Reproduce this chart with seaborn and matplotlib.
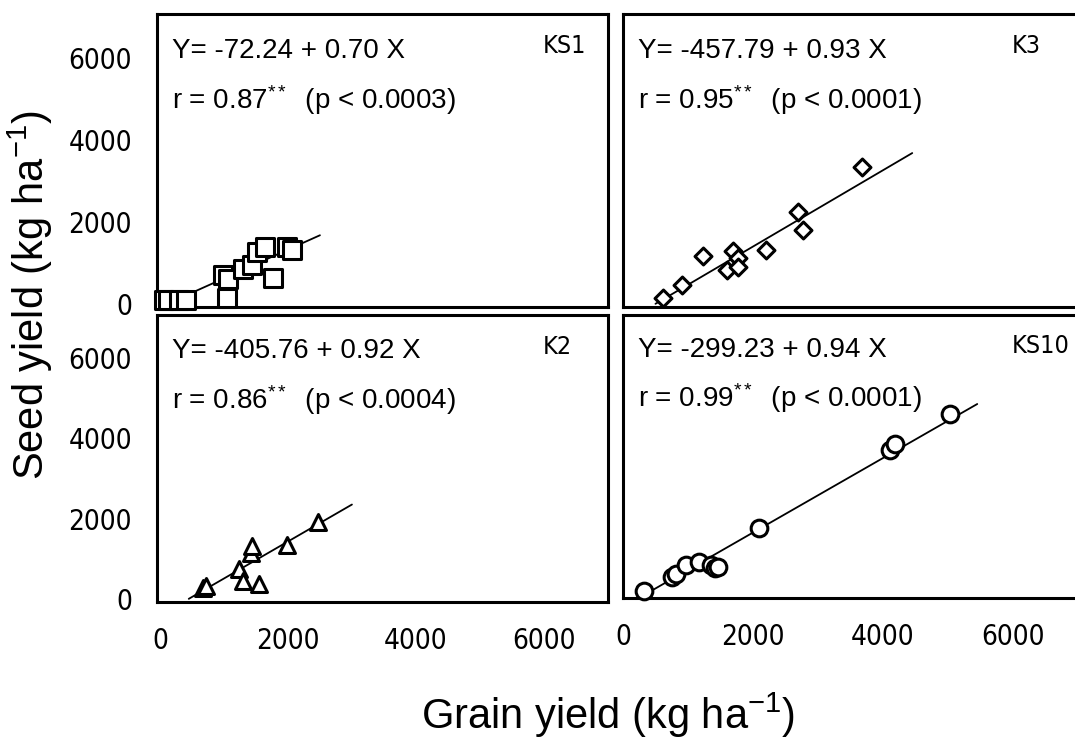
import os
import numpy as np
import pandas as pd
import matplotlib
matplotlib.use("Agg")
import matplotlib.pyplot as plt
from matplotlib import font_manager as fm
from matplotlib.ticker import MultipleLocator, FixedLocator
import seaborn as sns

# ---------------- data ----------------
ks1_x = [60, 120, 300, 400, 980, 1060, 1050, 1300, 1440, 1515, 1640, 1765, 1980, 2060]
ks1_y = [100, 100, 100, 100, 700, 620, 150, 850, 950, 1270, 1390, 630, 1380, 1320]

k3_x = [615, 905, 1230, 1600, 1690, 1770, 1770, 2200, 2690, 2770, 3680]
k3_y = [145, 460, 1170, 830, 1290, 1120, 900, 1320, 2240, 1800, 3340]

k2_x = [680, 720, 1240, 1300, 1420, 1440, 1540, 1990, 2470]
k2_y = [280, 330, 750, 450, 1150, 1330, 375, 1350, 1920]

ks10_x = [320, 750, 820, 970, 1170, 1350, 1420, 1460, 2100, 4110, 4185, 5030]
ks10_y = [100, 450, 530, 770, 850, 760, 680, 720, 1690, 3670, 3820, 4560]

panel_names = ["KS1", "K3", "K2", "KS10"]
intercepts = [-72.24, -457.79, -405.76, -299.23]
slopes = [0.70, 0.93, 0.92, 0.94]
r_values = ["0.87", "0.95", "0.86", "0.99"]
p_values = ["0.0003", "0.0001", "0.0004", "0.0001"]
line_ranges = [(400, 2500), (500, 4450), (450, 3000), (330, 5450)]
markers = ["s", "D", "^", "o"]
marker_sizes = [13, 8.6, 11.5, 12]

tick_values = [0, 2000, 4000, 6000]
tick_labels = ["0", "2000", "4000", "6000"]

# ---------------- style ----------------
sns.set_style("white")
plt.rcParams["font.family"] = ["Liberation Sans", "DejaVu Sans"]
plt.rcParams["mathtext.fontset"] = "custom"
plt.rcParams["mathtext.rm"] = "Liberation Sans"
plt.rcParams["mathtext.it"] = "Liberation Sans"
plt.rcParams["mathtext.default"] = "regular"
for k in ["text.color", "axes.labelcolor", "xtick.color", "ytick.color"]:
    plt.rcParams[k] = "black"


def narrow_font(size):
    path = None
    for f in fm.fontManager.ttflist:
        b = os.path.basename(f.fname)
        if b.startswith("LiberationSansNarrow-Regular"):
            path = f.fname
            break
    if path is None:
        for f in fm.fontManager.ttflist:
            b = os.path.basename(f.fname)
            if b == "DejaVuSansCondensed.ttf":
                path = f.fname
                break
    if path is None:
        return fm.FontProperties(family="Liberation Sans", size=size * 0.8)
    return fm.FontProperties(fname=path, size=size)


tick_fp = narrow_font(20)
name_fp = narrow_font(18)

fig = plt.figure(figsize=(10.75, 7.39), dpi=100)
positions = [
    [0.146, 0.5846, 0.4195, 0.3965],
    [0.5795, 0.5846, 0.4233, 0.3965],
    [0.146, 0.1854, 0.4195, 0.3884],
    [0.5795, 0.1908, 0.4233, 0.3830],
]
xlims = [(-47, 7000), (0, 7000), (-47, 7000), (0, 7000)]

xs = [ks1_x, k3_x, k2_x, ks10_x]
ys = [ks1_y, k3_y, k2_y, ks10_y]

for i in range(4):
    ax = fig.add_axes(positions[i])
    df = pd.DataFrame({"grain": xs[i], "seed": ys[i]})
    sns.scatterplot(data=df, x="grain", y="seed", ax=ax, marker=markers[i],
                    s=marker_sizes[i] ** 2, facecolor="white",
                    edgecolor="black", linewidth=2.2, zorder=3, clip_on=False)
    lx = np.array(line_ranges[i], dtype=float)
    ly = intercepts[i] + slopes[i] * lx
    sns.lineplot(x=lx, y=ly, ax=ax, color="black", linewidth=1.3, zorder=2)

    ax.set_xlim(*xlims[i])
    ax.set_ylim(-70, 7070)
    ax.set_xlabel("")
    ax.set_ylabel("")
    for sp in ax.spines.values():
        sp.set_visible(True)
        sp.set_linewidth(2.2)
        sp.set_color("black")
    ax.xaxis.set_major_locator(FixedLocator(tick_values))
    ax.yaxis.set_major_locator(FixedLocator(tick_values))
    ax.xaxis.set_minor_locator(MultipleLocator(1000))
    ax.yaxis.set_minor_locator(MultipleLocator(1000))
    ax.tick_params(which="both", direction="in", length=4, width=1.5,
                   top=False, right=False, color="black")
    ax.tick_params(axis="x", which="major", pad=18)
    ax.tick_params(axis="y", which="major", pad=18)
    if i in (0, 2):
        ax.set_yticklabels(tick_labels)
    else:
        ax.set_yticklabels([])
    if i in (2, 3):
        ax.set_xticklabels(tick_labels)
    else:
        ax.set_xticklabels([])
    for lab in ax.get_xticklabels() + ax.get_yticklabels():
        lab.set_fontproperties(tick_fp)

    eq = f"Y= {intercepts[i]:.2f} + {slopes[i]:.2f} X"
    rt = f"r = {r_values[i]}$^{{**}}$  (p < {p_values[i]})"
    ax.text(0.033, 0.875, eq, transform=ax.transAxes, fontsize=20,
            va="center", ha="left")
    ax.text(0.033, 0.705, rt, transform=ax.transAxes, fontsize=20,
            va="center", ha="left")
    ax.text(0.855, 0.89, panel_names[i], transform=ax.transAxes,
            fontproperties=name_fp, va="center", ha="left")
    if ax.get_legend() is not None:
        ax.get_legend().remove()

fig.text(0.566, 0.032, "Grain yield (kg ha$^{-1}$)", fontsize=30,
         ha="center", va="center")
fig.text(0.028, 0.6, "Seed yield (kg ha$^{-1}$)", fontsize=30, rotation=90,
         ha="center", va="center")

fig.savefig("out.png", dpi=100)
